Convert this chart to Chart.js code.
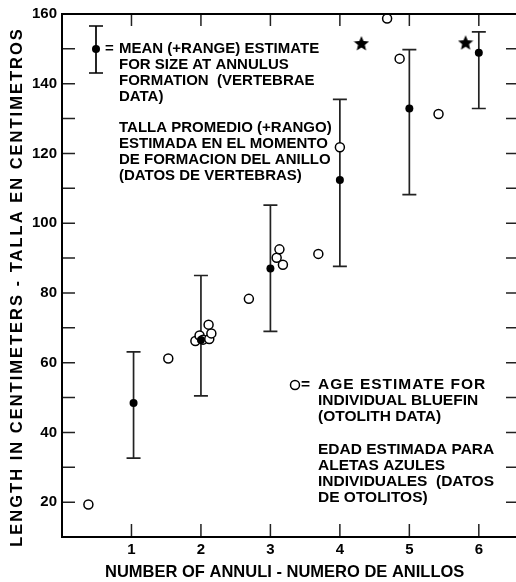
<!DOCTYPE html>
<html>
<head>
<meta charset="utf-8">
<script src="https://cdn.jsdelivr.net/npm/chart.js@4.4.0/dist/chart.umd.min.js"></script>
<style>
  html, body { margin: 0; padding: 0; background: #fff; overflow: hidden; }
</style>
</head>
<body>
<canvas id="chart" width="516" height="582"></canvas>
<script>
// vertebrae data: mean (+range) size at annulus formation
const annuli = [1.03, 2, 3, 4, 5, 6];
const meanLength = [48.4, 66.5, 87, 112.4, 132.9, 148.9];
const rangeLow = [32.6, 50.5, 69, 87.6, 108.2, 132.9];
const rangeHigh = [63.1, 85, 105.2, 135.5, 149.8, 154.9];

// otolith data: individual fish
const otolithAnnuli = [0.38, 1.53, 1.92, 1.98, 2.03, 2.12, 2.15, 2.11, 2.69, 3.09, 3.13, 3.18, 3.69, 4.0, 4.68, 4.86, 5.42];
const otolithLength = [19.3, 61.2, 66.2, 67.8, 66.6, 66.8, 68.4, 70.9, 78.3, 90.1, 92.5, 88.1, 91.2, 121.8, 158.7, 147.2, 131.3];

// stars
const starAnnuli = [4.31, 5.81];
const starLength = [151.7, 151.9];

const xTickLabels = ["1", "2", "3", "4", "5", "6"];
const yTickLabels = ["20", "40", "60", "80", "100", "120", "140", "160"];
const yMinorTicks = [20, 30, 40, 50, 60, 70, 80, 90, 100, 110, 120, 130, 140, 150];

const FONT = "'Liberation Sans', Arial, Helvetica, sans-serif";

const zip = (xs, ys) => xs.map((x, i) => ({ x, y: ys[i] }));

const barPoints = [];
annuli.forEach((x, i) => {
  barPoints.push({ x, y: rangeLow[i] }, { x, y: rangeHigh[i] }, { x, y: null });
});

function makeStar(size) {
  const c = document.createElement("canvas");
  c.width = size; c.height = size;
  const g = c.getContext("2d");
  const cx = size / 2, cy = size / 2, R = size / 2, r = R * 0.45;
  g.beginPath();
  for (let k = 0; k < 10; k++) {
    const rad = k % 2 ? r : R;
    const a = -Math.PI / 2 + k * Math.PI / 5;
    g.lineTo(cx + rad * Math.cos(a), cy + 1 + rad * Math.sin(a));
  }
  g.closePath();
  g.fillStyle = "#000";
  g.fill();
  return c;
}
const starImg = makeStar(16);

function lines(ctx, arr, x, y0, step) {
  arr.forEach((s, i) => ctx.fillText(s, x, y0 + i * step));
}

const framePlugin = {
  id: "frame",
  afterDraw(chart) {
    const { ctx, chartArea: a, scales: { x, y } } = chart;
    const W = chart.width;
    ctx.save();
    // inward ticks (right axis sits just past the canvas edge)
    ctx.lineWidth = 1.5;
    ctx.strokeStyle = "#222";
    ctx.beginPath();
    x.ticks.forEach(t => {
      const px = x.getPixelForValue(t.value);
      ctx.moveTo(px, a.top); ctx.lineTo(px, a.top + 12);
      ctx.moveTo(px, a.bottom); ctx.lineTo(px, a.bottom - 13);
    });
    yMinorTicks.forEach(v => {
      const py = y.getPixelForValue(v);
      ctx.moveTo(a.left, py); ctx.lineTo(a.left + 13, py);
      ctx.moveTo(W, py); ctx.lineTo(W - 10, py);
    });
    ctx.stroke();
    // frame: left, top, bottom
    ctx.strokeStyle = "#000";
    ctx.lineWidth = 2;
    ctx.beginPath();
    ctx.moveTo(W, a.top); ctx.lineTo(a.left, a.top);
    ctx.lineTo(a.left, a.bottom); ctx.lineTo(W, a.bottom);
    ctx.stroke();

    // y axis title
    ctx.fillStyle = "#000";
    ctx.font = "bold 16.5px " + FONT;
    ctx.textBaseline = "middle";
    ctx.textAlign = "center";
    ctx.save();
    ctx.translate(17, 287);
    ctx.rotate(-Math.PI / 2);
    ctx.letterSpacing = "2px";
    ctx.fillText("LENGTH IN CENTIMETERS - TALLA EN CENTIMETROS", 0, 0);
    ctx.restore();

    // legend glyphs
    ctx.lineWidth = 1.7;
    ctx.beginPath();
    ctx.moveTo(96, 26); ctx.lineTo(96, 73);
    ctx.moveTo(89, 26); ctx.lineTo(103, 26);
    ctx.moveTo(89, 73); ctx.lineTo(103, 73);
    ctx.stroke();
    ctx.beginPath();
    ctx.arc(96, 49, 4, 0, Math.PI * 2);
    ctx.fillStyle = "#000";
    ctx.fill();
    ctx.beginPath();
    ctx.lineWidth = 1.5;
    ctx.arc(295, 385, 4.5, 0, Math.PI * 2);
    ctx.fillStyle = "#fff";
    ctx.fill();
    ctx.stroke();

    // legend text
    ctx.fillStyle = "#000";
    ctx.textAlign = "left";
    ctx.font = "bold 15px " + FONT;
    ctx.fillText("=", 105, 49);
    lines(ctx, ["MEAN (+RANGE) ESTIMATE", "FOR SIZE AT ANNULUS", "FORMATION  (VERTEBRAE", "DATA)"], 119, 49, 16);
    lines(ctx, ["TALLA PROMEDIO (+RANGO)", "ESTIMADA EN EL MOMENTO", "DE FORMACION DEL ANILLO", "(DATOS DE VERTEBRAS)"], 119, 128, 16);
    ctx.font = "bold 15.5px " + FONT;
    ctx.fillText("=", 301, 385);
    ctx.save();
    ctx.letterSpacing = "1px";
    ctx.fillText("AGE ESTIMATE FOR", 318, 385);
    ctx.restore();
    lines(ctx, ["INDIVIDUAL BLUEFIN", "(OTOLITH DATA)"], 318, 401, 16);
    lines(ctx, ["EDAD ESTIMADA PARA", "ALETAS AZULES", "INDIVIDUALES  (DATOS", "DE OTOLITOS)"], 318, 450, 15.8);
    ctx.restore();
  }
};

new Chart(document.getElementById("chart"), {
  type: "scatter",
  data: {
    datasets: [
      {
        type: "line",
        data: barPoints,
        borderColor: "#222",
        borderWidth: 1.7,
        spanGaps: false,
        pointStyle: "line",
        pointRadius: 7,
        pointBorderWidth: 1.7,
        pointBorderColor: "#222",
        order: 3
      },
      {
        data: zip(otolithAnnuli, otolithLength),
        pointStyle: "circle",
        pointRadius: 4.5,
        pointBorderWidth: 1.5,
        pointBorderColor: "#000",
        pointBackgroundColor: "#fff",
        order: 2
      },
      {
        data: zip(annuli, meanLength),
        pointStyle: "circle",
        pointRadius: 4,
        pointBorderWidth: 0,
        pointBackgroundColor: "#000",
        order: 1
      },
      {
        data: zip(starAnnuli, starLength),
        pointStyle: starImg,
        order: 1
      }
    ]
  },
  options: {
    responsive: false,
    animation: false,
    events: [],
    layout: { padding: { top: 11, right: 1, left: 0, bottom: 0 } },
    plugins: { legend: { display: false }, tooltip: { enabled: false } },
    scales: {
      x: {
        type: "linear",
        min: 0,
        max: 6.41,
        grid: { display: false, drawTicks: false },
        border: { display: false },
        afterBuildTicks: s => { s.ticks = xTickLabels.map(v => ({ value: Number(v) })); },
        ticks: {
          padding: 4,
          color: "#000",
          font: { family: FONT, size: 15, weight: "bold" },
          callback: v => String(v)
        },
        title: {
          display: true,
          text: "NUMBER OF ANNULI - NUMERO DE ANILLOS",
          color: "#000",
          font: { family: FONT, size: 16.5, weight: "bold", lineHeight: 1 },
          padding: { top: 0, bottom: 1 }
        },
        afterFit: s => { s.height = 45; s.paddingLeft = 0; s.paddingRight = 0; }
      },
      y: {
        type: "linear",
        min: 10,
        max: 160,
        grid: { display: false, drawTicks: false },
        border: { display: false },
        afterBuildTicks: s => { s.ticks = yTickLabels.map(v => ({ value: Number(v) })); },
        ticks: {
          padding: 5,
          color: "#000",
          font: { family: FONT, size: 15, weight: "bold" },
          callback: v => String(v)
        },
        afterFit: s => { s.width = 62; }
      }
    }
  },
  plugins: [framePlugin]
});
</script>
</body>
</html>
